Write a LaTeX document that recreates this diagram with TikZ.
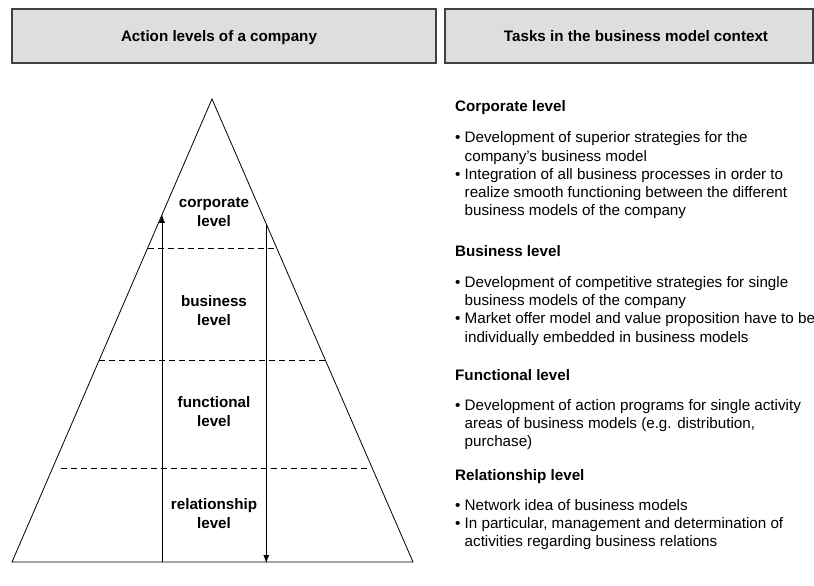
\documentclass[tikz,border=0pt]{standalone}
\usepackage{fontspec}
\setmainfont{Liberation Sans}
\usetikzlibrary{calc,arrows.meta}

\newcommand{\bul}{\makebox[9.5pt][l]{\textbullet}}
\newcommand{\ind}{\hspace*{9.5pt}}

\begin{document}
\begin{tikzpicture}[x=1pt,y=-1pt,
    every node/.style={inner sep=0pt, font=\fontsize{15.2}{18.3}\selectfont},
    headbox/.style={draw=black!75, line width=1.5pt, fill=black!13},
    headtext/.style={font=\fontsize{15.2}{18.3}\selectfont\bfseries, anchor=base},
    layer/.style={dash pattern=on 6pt off 4pt, line width=0.8pt},
    levelname/.style={font=\fontsize{15.2}{19}\selectfont\bfseries, align=center},
    taskhead/.style={font=\fontsize{15.2}{18.3}\selectfont\bfseries, anchor=base west},
    tasklist/.style={align=left, anchor=base west}]
    \useasboundingbox (0,0) rectangle (814,586);

    % Header boxes
    \draw[headbox] (12,9) rectangle (436,63);
    \draw[headbox] (445,9) rectangle (813,63);
    \node[headtext] (lefthead) at (219,41.7) {Action levels of a company};
    \node[headtext] (righthead) at (636,41.7) {Tasks in the business model context};

    % Pyramid
    \coordinate (apex) at (212,99);
    \coordinate (bl) at (12,562);
    \coordinate (br) at (413,562);
    \draw[line width=0.8pt] (apex) -- (bl) -- (br) -- cycle;

    % Level borders
    \foreach \t/\l/\r in {0.322/0/0, 0.564/0/0, 0.797/8/-4}
        \draw[layer] ($(apex)!\t!(bl)+(\l,0)$) -- ($(apex)!\t!(br)+(\r,0)$);

    % Top-down and bottom-up direction
    \coordinate (uptip) at ($(apex)!0.25!(bl)$);
    \coordinate (downstart) at ($(apex)!0.27!(br)$);
    \draw[line width=0.8pt, -{Latex[length=8pt,width=6pt]}] (uptip |- bl) -- (uptip);
    \draw[line width=0.8pt, -{Latex[length=8pt,width=6pt]}] (downstart) -- ([yshift=-1]downstart |- bl);

    % Level names
    \node[levelname] (corporate) at (214,212) {corporate\\level};
    \node[levelname] (business) at (214,311) {business\\level};
    \node[levelname] (functional) at (214,412) {functional\\level};
    \node[levelname] (relationship) at (214,514) {relationship\\level};

    % Tasks per level (lists sit on the baseline of their last line)
    \node[taskhead] (corphead) at (455,111.7) {Corporate level};
    \node[tasklist] (corptasks) at (455,215.9)
        {\bul Development of superior strategies for the\\
         \ind company's business model\\
         \bul Integration of all business processes in order to\\
         \ind realize smooth functioning between the different\\
         \ind business models of the company};

    \node[taskhead] (bushead) at (455,256.7) {Business level};
    \node[tasklist] (bustasks) at (455,342.2)
        {\bul Development of competitive strategies for single\\
         \ind business models of the company\\
         \bul Market offer model and value proposition have to be\\
         \ind individually embedded in business models};

    \node[taskhead] (funchead) at (455,380) {Functional level};
    \node[tasklist] (functasks) at (455,446.6)
        {\bul Development of action programs for single activity\\
         \ind areas of business models (e.g. distribution,\\
         \ind purchase)};

    \node[taskhead] (relhead) at (455,480) {Relationship level};
    \node[tasklist] (reltasks) at (455,546.6)
        {\bul Network idea of business models\\
         \bul In particular, management and determination of\\
         \ind activities regarding business relations};
\end{tikzpicture}
\end{document}
